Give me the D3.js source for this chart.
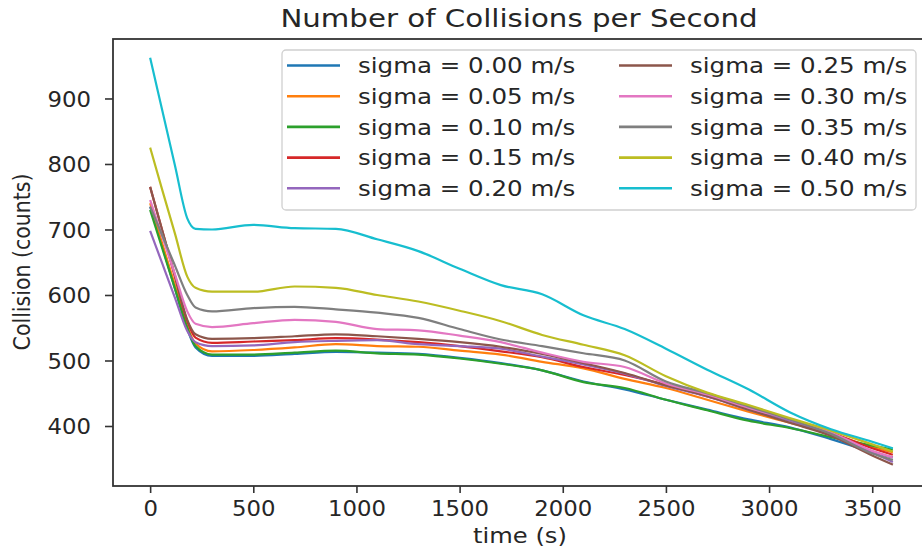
<!DOCTYPE html>
<html>
<head>
<meta charset="utf-8">
<script src="https://cdn.jsdelivr.net/npm/d3@7"></script>
<style>
  html, body { margin: 0; padding: 0; background: #fff; }
  svg { display: block; }
  text { font-family: "DejaVu Sans", sans-serif; fill: #262626; }
</style>
</head>
<body>
<svg id="chart" width="922" height="552"></svg>
<script>
// Sample times (s)
const times = [0, 60, 120, 180, 220, 300, 500, 700, 900, 1100, 1300, 1500, 1700, 1900, 2100, 2300, 2500, 2700, 2900, 3100, 3300, 3500, 3600];

// Collision counts per second for each velocity spread
const sigma000 = [735, 673, 610, 548, 520, 507, 507, 510, 513, 512, 510, 504, 496, 485, 468, 456, 440, 425, 410, 398, 380, 360, 352];
const sigma005 = [740, 677, 615, 552, 526, 514, 516, 520, 525, 522, 521, 515, 509, 498, 488, 472, 458, 440, 422, 405, 388, 368, 360];
const sigma010 = [730, 670, 610, 550, 522, 509, 509, 512, 515, 511, 509, 503, 495, 485, 467, 458, 440, 424, 408, 397, 383, 370, 364];
const sigma015 = [765, 697, 628, 560, 535, 527, 529, 531, 534, 532, 528, 522, 514, 505, 490, 478, 463, 445, 428, 410, 390, 366, 356];
const sigma020 = [698, 647, 596, 545, 528, 522, 523, 528, 530, 531, 525, 522, 518, 506, 494, 480, 461, 445, 425, 408, 388, 360, 345];
const sigma025 = [765, 697, 630, 562, 540, 533, 534, 537, 540, 537, 533, 528, 521, 510, 496, 481, 462, 446, 425, 405, 385, 355, 341];
const sigma030 = [745, 688, 632, 575, 556, 551, 557, 562, 559, 548, 546, 538, 528, 512, 498, 490, 465, 448, 428, 410, 390, 362, 352];
const sigma035 = [735, 690, 645, 600, 581, 575, 580, 582, 578, 573, 565, 548, 532, 522, 511, 500, 468, 450, 430, 410, 388, 358, 348];
const sigma040 = [825, 759, 694, 628, 611, 605, 605, 613, 611, 600, 590, 576, 560, 539, 524, 508, 476, 451, 432, 412, 393, 372, 361];
const sigma050 = [962, 880, 798, 717, 701, 700, 707, 702, 701, 685, 667, 640, 615, 601, 569, 548, 518, 486, 456, 421, 395, 376, 366];

const seriesLabels = [
  "sigma = 0.00 m/s", "sigma = 0.05 m/s", "sigma = 0.10 m/s", "sigma = 0.15 m/s", "sigma = 0.20 m/s",
  "sigma = 0.25 m/s", "sigma = 0.30 m/s", "sigma = 0.35 m/s", "sigma = 0.40 m/s", "sigma = 0.50 m/s"
];
const seriesValues = [sigma000, sigma005, sigma010, sigma015, sigma020, sigma025, sigma030, sigma035, sigma040, sigma050];
const seriesColors = ["#1f77b4", "#ff7f0e", "#2ca02c", "#d62728", "#9467bd", "#8c564b", "#e377c2", "#7f7f7f", "#bcbd22", "#17becf"];

const xTicks = [0, 500, 1000, 1500, 2000, 2500, 3000, 3500];
const yTicks = [400, 500, 600, 700, 800, 900];

const titleText = "Number of Collisions per Second";
const xLabelText = "time (s)";
const yLabelText = "Collision (counts)";

// Plot frame
const frameLeft = 113, frameTop = 39, frameBottom = 486, frameRight = 930;

const svg = d3.select("#chart");

const x = d3.scaleLinear().domain([-180, 3780]).range([frameLeft, frameRight]);
const y = d3.scaleLinear().domain([308.4, 990.8]).range([frameBottom, frameTop]);

// Lines
const line = d3.line()
  .x((d, i) => x(times[i]))
  .y(d => y(d))
  .curve(d3.curveMonotoneX);

const plot = svg.append("g");
seriesValues.forEach((vals, k) => {
  plot.append("path")
    .datum(vals)
    .attr("d", line)
    .attr("fill", "none")
    .attr("stroke", seriesColors[k])
    .attr("stroke-width", 2.2)
    .attr("stroke-linejoin", "round")
    .attr("stroke-linecap", "butt");
});

// Spines
const spine = svg.append("g").attr("stroke", "#333").attr("stroke-width", 1.8).attr("fill", "none");
spine.append("rect").attr("x", frameLeft).attr("y", frameTop)
  .attr("width", frameRight - frameLeft).attr("height", frameBottom - frameTop);

// Axes
const tickFs = 21, tickSx = 1.085;
const xAxis = svg.append("g")
  .attr("transform", `translate(0,${frameBottom})`)
  .call(d3.axisBottom(x).tickValues(xTicks).tickSize(7).tickPadding(8).tickFormat(d3.format("d")));
xAxis.select(".domain").remove();
xAxis.selectAll(".tick line").attr("stroke", "#333").attr("stroke-width", 1.6);
xAxis.selectAll(".tick text")
  .attr("font-size", tickFs)
  .attr("font-family", "DejaVu Sans")
  .attr("fill", "#262626")
  .attr("y", 0)
  .attr("dy", null)
  .attr("transform", `translate(0,${7 + 8 + 0.73 * tickFs}) scale(${tickSx},1)`);

const yAxis = svg.append("g")
  .attr("transform", `translate(${frameLeft},0)`)
  .call(d3.axisLeft(y).tickValues(yTicks).tickSize(8).tickFormat(d3.format("d")));
yAxis.select(".domain").remove();
yAxis.selectAll(".tick line").attr("stroke", "#333").attr("stroke-width", 1.6);
yAxis.selectAll(".tick text")
  .attr("font-size", tickFs)
  .attr("font-family", "DejaVu Sans")
  .attr("fill", "#262626")
  .attr("x", 0)
  .attr("dy", "0.36em")
  .attr("transform", `translate(-22,0) scale(${tickSx},1)`);

// Title and axis labels
svg.append("text")
  .attr("transform", `translate(519,27) scale(1.22,1)`)
  .attr("text-anchor", "middle")
  .attr("font-size", 24)
  .text(titleText);

svg.append("text")
  .attr("transform", `translate(520,543) scale(1.1,1)`)
  .attr("text-anchor", "middle")
  .attr("font-size", 22)
  .text(xLabelText);

svg.append("text")
  .attr("transform", `translate(30,262) scale(1.15,1) rotate(-90)`)
  .attr("text-anchor", "middle")
  .attr("font-size", 20.5)
  .text(yLabelText);

// Legend
const legend = svg.append("g");
legend.append("rect")
  .attr("x", 282).attr("y", 50).attr("width", 634).attr("height", 160)
  .attr("rx", 4).attr("ry", 4)
  .attr("fill", "#fff").attr("fill-opacity", 0.8)
  .attr("stroke", "#d0d0d0").attr("stroke-width", 1.3);

const cols = [{ l0: 287, l1: 340, tx: 358 }, { l0: 619, l1: 672, tx: 690 }];
seriesLabels.forEach((lab, k) => {
  const c = cols[Math.floor(k / 5)];
  const ry = 65.5 + 30.7 * (k % 5);
  legend.append("line")
    .attr("x1", c.l0).attr("x2", c.l1).attr("y1", ry).attr("y2", ry)
    .attr("stroke", seriesColors[k]).attr("stroke-width", 2.6);
  legend.append("text")
    .attr("transform", `translate(${c.tx},${ry}) scale(1.14,1)`)
    .attr("dy", "0.36em")
    .attr("font-size", 21.5)
    .text(lab);
});
</script>
</body>
</html>
